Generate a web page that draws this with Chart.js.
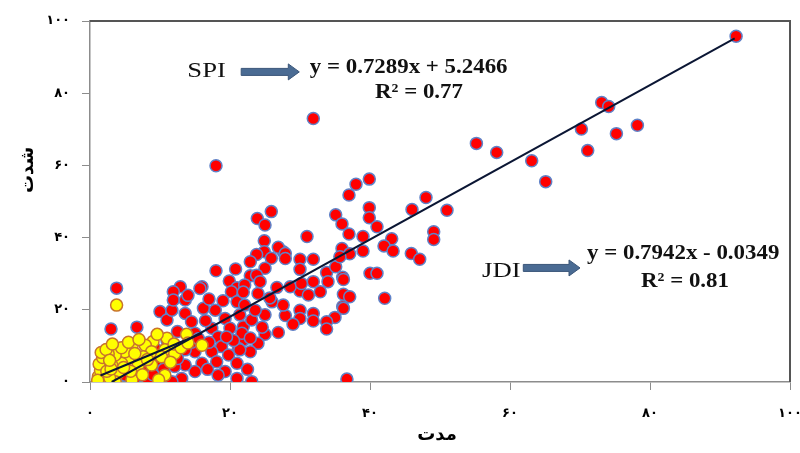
<!DOCTYPE html>
<html>
<head>
<meta charset="utf-8">
<script src="https://cdn.jsdelivr.net/npm/chart.js@4.4.1/dist/chart.umd.min.js"></script>
<style>
  html, body { margin: 0; padding: 0; background: #fff; overflow: hidden; }
  #wrap { width: 800px; height: 453px; position: relative; }
</style>
</head>
<body>
<div id="wrap"><canvas id="chart"></canvas></div>
<script>
// SPI / JDI scatter – intensity (شدت) vs duration (مدت)

const tickLabels = ["۰", "۲۰", "۴۰", "۶۰", "۸۰", "۱۰۰"];
const xTitle = "مدت";
const yTitle = "شدت";

// red series
const spiX = [92.3,73.1,74.1,70.2,78.2,75.2,71.1,58.1,55.2,63.1,65.1,31.9,39.9,38.0,37.0,48.0,46.0,51.0,39.9,35.1,
  39.9,36.0,41.0,31.0,37.0,39.0,49.1,49.1,43.1,42.0,43.3,36.0,37.1,39.0,45.9,47.1,31.9,30.0,30.0,27.6,
  33.8,35.1,40.0,41.0,36.1,36.2,36.2,37.1,42.1,36.1,35.7,32.9,30.0,31.2,36.2,35.0,33.8,33.8,31.9,31.9,
  30.0,30.0,27.9,29.0,24.0,26.0,25.0,21.9,23.1,25.0,26.9,21.9,24.0,22.9,23.1,36.7,18.0,25.9,23.9,25.0,
  24.9,24.9,26.9,27.9,23.8,25.9,27.9,22.9,25.0,22.9,23.8,18.0,20.8,19.9,24.3,31.9,34.0,12.9,16.0,21.0,
  22.1,26.7,28.6,30.2,3.8,3.0,6.7,10.0,11.0,11.7,11.9,11.9,13.6,13.6,15.7,16.2,14.5,17.9,19.3,20.2,
  21.0,21.4,20.0,21.7,17.4,18.3,18.8,17.4,18.1,19.8,21.2,21.0,19.3,21.0,18.3,16.0,15.0,13.1,11.7,13.6,
  12.1,15.0,13.6,11.2,9.5,9.3,7.9,6.4,5.0,8.3,21.9,25.7,22.1,23.6,27.6,24.6,22.9,21.4,10.5,12.5,
  9.0,11.0,14.5,12.5,15.0,16.5,14.0,17.0,19.0,15.5,17.0,22.5,20.5,16.8,19.5];
const spiY = [95.8,77.4,76.3,70.1,71.1,68.8,64.1,63.6,66.1,61.3,55.5,73.0,56.2,54.8,51.8,51.1,47.8,47.6,48.3,46.3,
  45.5,43.8,43.0,40.3,41.0,40.3,41.6,39.5,39.7,37.7,36.3,37.0,35.5,36.3,35.6,34.0,34.0,34.0,31.2,36.1,
  30.3,31.9,30.1,30.1,29.0,28.4,24.3,23.6,23.2,20.9,34.7,25.0,25.2,24.1,20.4,17.9,16.7,14.7,19.0,16.9,
  19.9,17.6,18.4,16.0,24.5,22.2,18.6,15.3,17.2,13.2,13.7,11.6,10.7,8.4,0.1,0.8,59.9,47.2,45.3,43.5,
  39.1,36.1,37.3,35.6,35.3,34.3,34.2,33.3,31.5,29.4,29.6,30.8,31.3,28.0,27.8,27.8,27.8,26.4,26.4,26.1,
  26.9,26.2,26.4,27.3,26.0,14.7,15.2,19.5,17.2,19.9,25.0,22.7,22.7,19.0,25.9,20.4,16.7,19.9,17.6,25.0,
  22.2,18.6,14.9,13.5,14.9,12.5,9.8,8.4,5.6,7.5,9.3,5.2,2.9,1.0,1.9,5.2,2.9,1.0,0.1,4.7,
  4.3,8.4,8.9,9.3,8.9,5.6,2.9,1.0,1.9,0.6,24.9,23.3,21.3,19.9,21.3,15.2,12.2,8.9,3.5,6.5,
  2.0,11.5,11.0,14.0,13.5,17.0,24.0,23.0,22.5,12.0,11.0,3.5,11.5,3.5,12.5];

// yellow series
const jdiX = [3.8,13.8,16.0,11.0,9.0,7.9,6.0,10.7,8.8,12.1,10.2,7.6,5.5,8.8,6.9,4.5,3.1,2.1,4.0,1.9,
  10.7,9.8,6.0,3.6,1.7,2.1,5.0,6.4,3.6,1.2,1.5,1.3,1.8,2.6,2.8,1.1,2.4,3.0,1.6,2.3,
  4.5,3.2,5.5,7.0,9.6,12.0,13.0,14.0,11.5,5.8,7.5,8.2,4.8,2.8];
const jdiY = [21.3,13.2,10.2,12.1,11.2,10.2,9.8,8.9,8.4,7.9,7.0,7.0,6.5,4.7,4.7,5.2,4.7,4.2,2.4,2.4,
  1.9,0.6,0.6,0.1,0.1,5.6,8.4,7.9,7.5,1.5,3.2,5.0,6.8,7.8,1.2,0.5,3.0,3.6,8.2,9.0,
  9.5,10.5,11.0,11.8,13.2,10.5,9.5,10.8,5.5,3.0,2.0,6.2,4.0,6.0];

// trend lines as drawn (end points)
const spiTrendX = [3.1, 92.1];
const spiTrendY = [0.0, 95.2];
const jdiTrendX = [1.5, 16.0];
const jdiTrendY = [1.8, 13.5];

// equation notes: [text, x, y, bold, align, stretch]
const notes = [
  ["SPI", 13.9, 84.5, false, "left", 1.27],
  ["y = 0.7289x + 5.2466", 31.4, 85.6, true, "left", 1.09],
  ["R² = 0.77", 47.0, 78.7, true, "center", 1.09],
  ["JDI", 56.0, 29.1, false, "left", 1.27],
  ["y = 0.7942x - 0.0349", 71.0, 34.1, true, "left", 1.09],
  ["R² = 0.81", 85.0, 26.3, true, "center", 1.09]
];
// arrows: [x from, x to, y]
const arrows = [
  [21.6, 29.9, 85.9],
  [61.9, 70.0, 31.6]
];

const toPts = (xs, ys) => xs.map((x, i) => ({ x: x, y: ys[i] }));

const extras = {
  id: "extras",
  beforeDraw(chart) {
    const ctx = chart.ctx;
    ctx.save();
    ctx.fillStyle = "#fff";
    ctx.fillRect(0, 0, chart.width, chart.height);
    ctx.restore();
  },
  afterDraw(chart) {
    const ctx = chart.ctx;
    const a = chart.chartArea;
    const xs = chart.scales.x, ys = chart.scales.y;
    ctx.save();

    // top / right frame
    ctx.strokeStyle = "#555";
    ctx.lineWidth = 2;
    ctx.beginPath();
    ctx.moveTo(a.left, a.top);
    ctx.lineTo(a.right, a.top);
    ctx.lineTo(a.right, a.bottom);
    ctx.stroke();

    // arrows
    arrows.forEach(ar => {
      const x1 = xs.getPixelForValue(ar[0]);
      const x2 = xs.getPixelForValue(ar[1]);
      const y = ys.getPixelForValue(ar[2]);
      const head = 11;
      ctx.fillStyle = "#4a6b93";
      ctx.strokeStyle = "#3b5679";
      ctx.lineWidth = 1;
      ctx.beginPath();
      ctx.moveTo(x1, y - 3.5);
      ctx.lineTo(x2 - head, y - 3.5);
      ctx.lineTo(x2 - head, y - 8);
      ctx.lineTo(x2, y);
      ctx.lineTo(x2 - head, y + 8);
      ctx.lineTo(x2 - head, y + 3.5);
      ctx.lineTo(x1, y + 3.5);
      ctx.closePath();
      ctx.fill();
      ctx.stroke();
    });

    // notes (slightly stretched, like the original picture)
    ctx.fillStyle = "#111";
    ctx.textBaseline = "alphabetic";
    notes.forEach(n => {
      ctx.save();
      ctx.font = (n[3] ? "bold " : "") + "21px 'Liberation Serif', 'Times New Roman', serif";
      ctx.textAlign = n[4];
      ctx.translate(xs.getPixelForValue(n[1]), ys.getPixelForValue(n[2]));
      ctx.scale(n[5], 1);
      ctx.fillText(n[0], 0, 0);
      ctx.restore();
    });

    // axis titles
    ctx.fillStyle = "#000";
    ctx.font = "bold 18px 'DejaVu Sans', sans-serif";
    ctx.textAlign = "center";
    ctx.textBaseline = "middle";
    ctx.fillText(xTitle, (a.left + a.right) / 2 - 3, a.bottom + 53);
    ctx.translate(28, 170);
    ctx.rotate(-Math.PI / 2);
    ctx.fillText(yTitle, 0, 0);
    ctx.restore();
  }
};

const tickFont = { family: "'DejaVu Sans', sans-serif", size: 13, weight: "bold" };

document.addEventListener("DOMContentLoaded", () => {
  const ctx = document.getElementById("chart").getContext("2d");
  new Chart(ctx, {
    type: "scatter",
    data: {
      datasets: [
        {
          label: "SPI trend",
          data: toPts(spiTrendX, spiTrendY),
          showLine: true,
          borderColor: "#0b1634",
          borderWidth: 2,
          pointRadius: 0,
          order: 0
        },
        {
          label: "JDI trend",
          data: toPts(jdiTrendX, jdiTrendY),
          showLine: true,
          borderColor: "#0b1634",
          borderWidth: 2,
          pointRadius: 0,
          order: 0
        },
        {
          label: "JDI",
          data: toPts(jdiX, jdiY),
          backgroundColor: "#ffff00",
          borderColor: "#c8742c",
          borderWidth: 1.5,
          pointRadius: 6,
          order: 1
        },
        {
          label: "SPI",
          data: toPts(spiX, spiY),
          backgroundColor: "#ff0000",
          borderColor: "#5f82c8",
          borderWidth: 1.5,
          pointRadius: 6,
          order: 2
        }
      ]
    },
    options: {
      responsive: true,
      maintainAspectRatio: false,
      animation: false,
      layout: { padding: { left: 0, right: 10, top: 21, bottom: 0 } },
      plugins: { legend: { display: false }, tooltip: { enabled: false } },
      scales: {
        x: {
          type: "linear",
          min: 0, max: 100,
          afterFit: s => { s.height = 71; s.paddingLeft = 0; s.paddingRight = 0; },
          border: { display: true, color: "#8c8c8c", width: 1.5 },
          grid: { drawOnChartArea: false, drawTicks: true, tickLength: 8, color: "#8c8c8c" },
          ticks: {
            stepSize: 20,
            padding: 16,
            color: "#000",
            font: tickFont,
            callback: v => tickLabels[Math.round(v / 20)]
          }
        },
        y: {
          type: "linear",
          min: 0, max: 100,
          afterFit: s => { s.width = 90; s.paddingTop = 0; s.paddingBottom = 0; },
          border: { display: true, color: "#8c8c8c", width: 1.5 },
          grid: { drawOnChartArea: false, drawTicks: true, tickLength: 8, color: "#8c8c8c" },
          ticks: {
            stepSize: 20,
            padding: 12,
            color: "#000",
            font: tickFont,
            callback: v => tickLabels[Math.round(v / 20)]
          }
        }
      }
    },
    plugins: [extras]
  });
});
</script>
</body>
</html>
